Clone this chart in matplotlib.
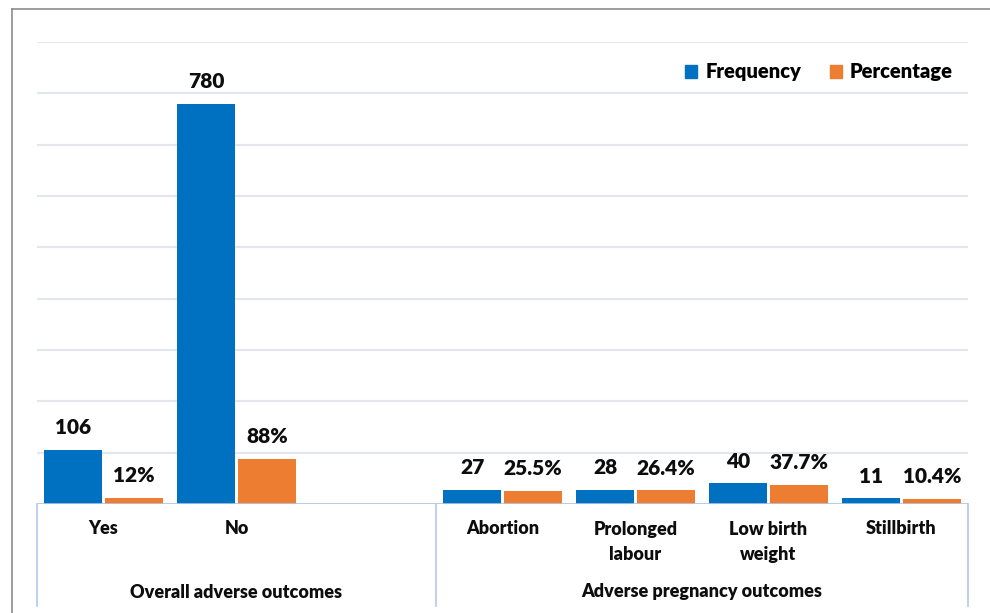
import matplotlib
matplotlib.use('Agg')
import matplotlib.pyplot as plt
import matplotlib.transforms as mtransforms
from matplotlib.lines import Line2D
from matplotlib.patches import Patch

# data
categories = ['Yes', 'No', 'Abortion', 'Prolonged\nlabour', 'Low birth\nweight', 'Stillbirth']
frequency = [106, 780, 27, 28, 40, 11]
percentage = [12, 88, 25.5, 26.4, 37.7, 10.4]
pct_labels = ['12%', '88%', '25.5%', '26.4%', '37.7%', '10.4%']
groups = ['Overall adverse outcomes', 'Adverse pregnancy outcomes']
group_counts = [2, 4]     # categories in each group
group_slots = [3, 4]      # slots each group takes (first one has an empty slot)

blue = '#0070C0'
orange = '#ED7D31'
plt.rcParams['font.family'] = ['Lato', 'DejaVu Sans']
WEIGHT = 800

W, H = 990, 613
fig = plt.figure(figsize=(W / 100, H / 100), dpi=100)
ax = fig.add_axes([37 / W, (H - 504) / H, (968 - 37) / W, (504 - 42) / H])

# x positions of the categories
xs = []
start = 0
for n, s in zip(group_counts, group_slots):
    for i in range(n):
        xs.append(start + i + 0.5)
    start += s
total_slots = start

bw = 0.44
off = 0.228
b1 = ax.bar([x - off for x in xs], frequency, bw, color=blue, label='Frequency', zorder=3)
b2 = ax.bar([x + off for x in xs], percentage, bw, color=orange, label='Percentage', zorder=3)

for rect, v in zip(b1, frequency):
    ax.annotate(str(v), (rect.get_x() + rect.get_width() / 2, rect.get_height()),
                xytext=(0, 16), textcoords='offset points', ha='center', va='center',
                fontsize=15, fontweight=WEIGHT, color='#0d0d0d')
for rect, t in zip(b2, pct_labels):
    ax.annotate(t, (rect.get_x() + rect.get_width() / 2, rect.get_height()),
                xytext=(0, 16), textcoords='offset points', ha='center', va='center',
                fontsize=15, fontweight=WEIGHT, color='#0d0d0d')

ax.set_xlim(0, total_slots)
ax.set_ylim(0, 900)
ax.set_yticks(range(0, 901, 100))
ax.set_yticklabels([])
ax.tick_params(left=False, bottom=False, labelbottom=False)
ax.grid(axis='y', color='#e3e6ee', linewidth=1.5, zorder=0)
for s in ax.spines.values():
    s.set_visible(False)
ax.axhline(0, color='#b4c7e7', linewidth=1.2, zorder=4)

# category and group labels under the axis
trans = mtransforms.blended_transform_factory(ax.transData, fig.transFigure)
for x, c in zip(xs, categories):
    y = 542 if '\n' in c else 529
    ax.text(x, (H - y) / H, c, transform=trans, ha='center', va='center',
            fontsize=13, fontweight=WEIGHT, color='#0d0d0d', linespacing=1.55)
start = 0
seps = [0]
for g, s in zip(groups, group_slots):
    ax.text(start + s / 2, (H - 592) / H, g, transform=trans, ha='center', va='center',
            fontsize=13, fontweight=WEIGHT, color='#0d0d0d')
    start += s
    seps.append(start)
for sx in seps:
    ax.add_line(Line2D([sx, sx], [(H - 504) / H, (H - 606) / H], transform=trans,
                       color='#b4c7e7', linewidth=1.2, clip_on=False))

handles = [Patch(color=blue), Patch(color=orange)]
ax.legend(handles, ['Frequency', 'Percentage'], loc='upper right', bbox_to_anchor=(1.003, 0.995),
          frameon=False, ncol=2, prop={'weight': WEIGHT, 'size': 14.5},
          handlelength=0.6, handleheight=0.6, handletextpad=0.4, columnspacing=1.4)

# outer border (left and top)
fig.add_artist(Line2D([12 / W, 12 / W], [0, (H - 9) / H], color='#8c8c8c', linewidth=1.2))
fig.add_artist(Line2D([12 / W, 1], [(H - 9) / H, (H - 9) / H], color='#8c8c8c', linewidth=1.2))

fig.savefig('out.png', dpi=100)
